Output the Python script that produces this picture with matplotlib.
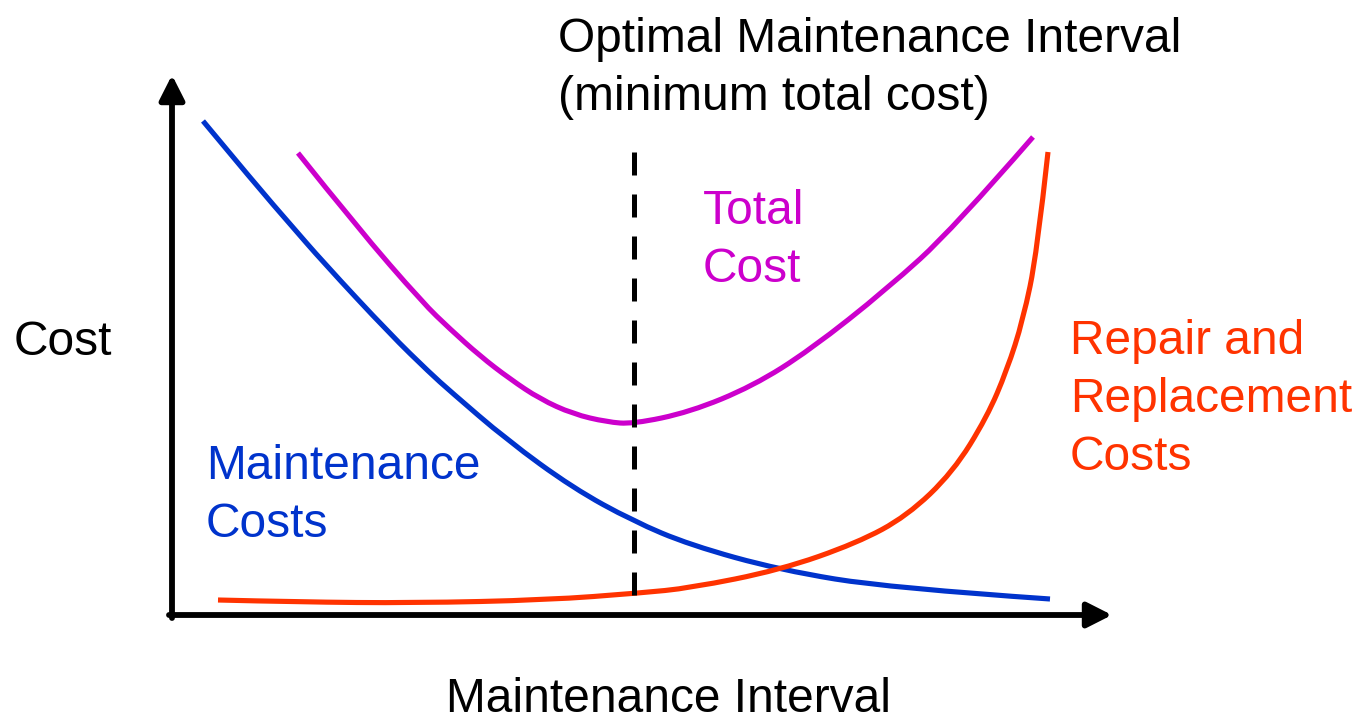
import matplotlib
matplotlib.use("Agg")
import matplotlib.pyplot as plt
from matplotlib.path import Path
from matplotlib.patches import PathPatch

plt.rcParams['font.family'] = ['Liberation Sans', 'DejaVu Sans']

# ---- data (interval units on x, cost units on y) ----
maint_x = [3.1, 8.5, 11.8, 15.1, 21.8, 25.8, 27.8, 33.5, 40.1, 46.1, 51.8, 60.8, 71.8, 87.8]
maint_y = [49.4, 42.9, 39.1, 35.3, 28.1, 24.2, 22.4, 17.5, 12.7, 9.4, 7.0, 4.5, 2.7, 1.6]

total_x = [12.6, 18.5, 25.1, 27.8, 30.8, 33.8, 36.8, 40.1, 43.5, 46.1, 51.8, 58.1, 63.8, 71.5, 78.1, 86.1]
total_y = [46.2, 38.8, 31.2, 28.6, 25.9, 23.6, 21.6, 20.1, 19.3, 19.1, 20.3, 22.9, 26.5, 32.6, 38.6, 47.8]

repair_x = [4.6, 12.8, 24.1, 37.5, 46.8, 51.8, 60.8, 68.5, 73.5, 78.1, 81.5, 83.5, 85.1, 86.5, 87.6]
repair_y = [1.5, 1.3, 1.2, 1.5, 2.2, 2.7, 4.5, 7.2, 9.9, 14.3, 19.8, 24.5, 29.5, 36.2, 46.3]

optimal_x = 46.2
optimal_top = 46.3
x_axis_end = 94.0
y_axis_end = 54.0

BLUE = '#0033CC'
MAGENTA = '#CC00CC'
RED = '#FF3300'

W, H = 1360, 720
fig = plt.figure(figsize=(W / 100, H / 100), dpi=100)
ax = fig.add_axes([0, 0, 1, 1])
ax.set_xlim(-17.2, 118.8)
ax.set_ylim(-10.5, 61.5)
ax.axis('off')

# axes with arrows
axis_lw = 4.2
ax.annotate('', xy=(0, y_axis_end), xytext=(0, -0.3),
            arrowprops=dict(arrowstyle='-|>,head_length=0.75,head_width=0.38',
                            mutation_scale=20, lw=axis_lw, color='black',
                            shrinkA=0, shrinkB=0))
ax.annotate('', xy=(x_axis_end, 0), xytext=(-0.3, 0),
            arrowprops=dict(arrowstyle='-|>,head_length=0.75,head_width=0.38',
                            mutation_scale=20, lw=axis_lw, color='black',
                            shrinkA=0, shrinkB=0))

# optimal dashed line (drawn top to bottom)
ax.plot([optimal_x, optimal_x], [optimal_top, 0], color='black', lw=3.6,
        linestyle=(0, (4.6, 3.8)), solid_capstyle='butt', dash_capstyle='butt')


def smooth_curve(xs, ys, color, lw=3.7):
    """Draw a smooth quadratic-Bezier path guided by the read points."""
    pts = list(zip(xs, ys))
    verts = [pts[0]]
    codes = [Path.MOVETO]
    n = len(pts)
    for i in range(1, n - 1):
        mid = ((pts[i][0] + pts[i + 1][0]) / 2, (pts[i][1] + pts[i + 1][1]) / 2)
        end = pts[i + 1] if i == n - 2 else mid
        verts += [pts[i], end]
        codes += [Path.CURVE3, Path.CURVE3]
    patch = PathPatch(Path(verts, codes), facecolor='none', edgecolor=color,
                      lw=lw, capstyle='butt', joinstyle='round')
    ax.add_patch(patch)


smooth_curve(maint_x, maint_y, BLUE)
smooth_curve(total_x, total_y, MAGENTA)
smooth_curve(repair_x, repair_y, RED)

FS = 34.5


def ptext(x, y, s, color='black', ha='left'):
    fig.text(x / W, 1 - y / H, s, color=color, fontsize=FS, ha=ha, va='baseline')


ptext(558, 52, 'Optimal Maintenance Interval')
ptext(558, 110, '(minimum total cost)')
ptext(14, 355, 'Cost')
ptext(668, 712, 'Maintenance Interval', ha='center')
ptext(703, 224, 'Total', MAGENTA)
ptext(703, 282, 'Cost', MAGENTA)
ptext(206, 479, 'Maintenance', BLUE)
ptext(206, 537, 'Costs', BLUE)
ptext(1070, 354, 'Repair and', RED)
ptext(1070, 412, 'Replacement', RED)
ptext(1070, 470, 'Costs', RED)

fig.savefig('out.png', dpi=100)
